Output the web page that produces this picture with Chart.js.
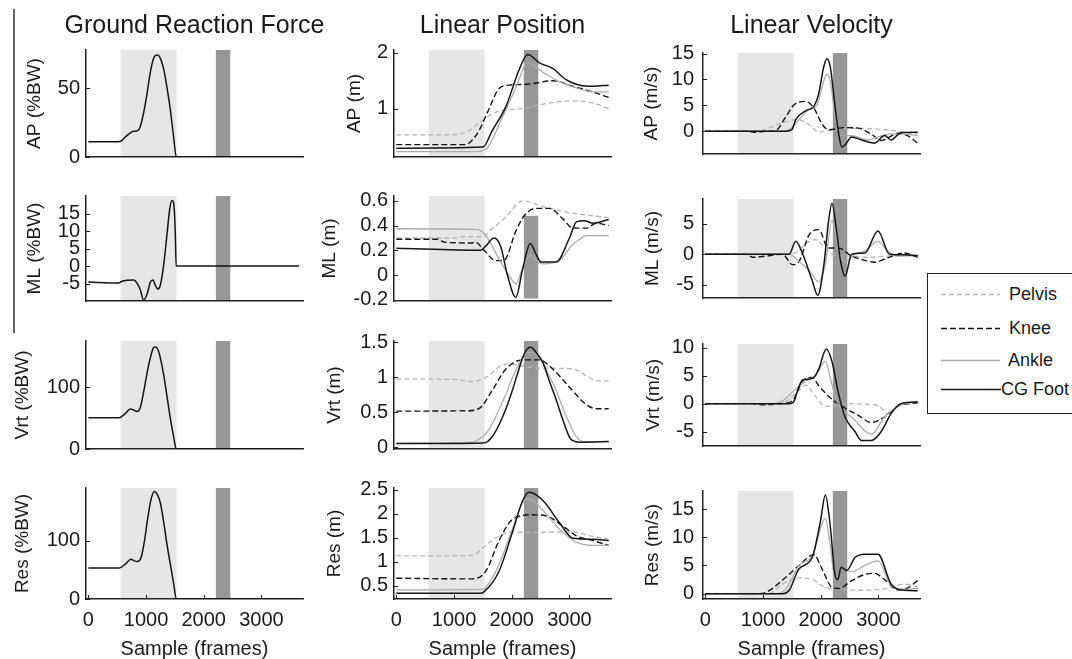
<!DOCTYPE html>
<html>
<head>
<meta charset="utf-8">
<script src="https://cdn.jsdelivr.net/npm/chart.js@4.4.1/dist/chart.umd.min.js"></script>
<style>
html, body { margin: 0; padding: 0; background: #fff; }
body { width: 1072px; height: 659px; position: relative; overflow: hidden;
  font-family: "Liberation Sans", Arial, sans-serif; color: #1a1a1a; }
canvas { position: absolute; }
.coltitle { position: absolute; top: 12px; font-size: 25px; line-height: 25px; white-space: nowrap; transform: translateX(-50%); }
#sep { position: absolute; left: 13px; top: 9px; width: 1.5px; height: 324px; background: #666; }
#legend { position: absolute; left: 927px; top: 273px; width: 160px; height: 139px; border: 1px solid #222; background: #fff; }
#legend .item { position: absolute; left: 0; height: 24px; width: 160px; }
#legend svg { position: absolute; left: 13px; top: 0; }
#legend span { position: absolute; top: 0; font-size: 18px; line-height: 24px; white-space: nowrap; }
</style>
</head>
<body>
<div id="sep"></div>
<div id="legend"></div>
<script>
// shared axis data
const xRange = [-40, 3720];
const xTicks = [0, 1000, 2000, 3000];
const lightBand = [560, 1530];
const darkBand = [2210, 2460];
const posMLDarkBandY = [-0.19, 0.48];
const seriesNames = ["Pelvis", "Knee", "Ankle", "CG Foot"];
const columnTitles = ["Ground Reaction Force", "Linear Position", "Linear Velocity"];
const rowNames = ["AP", "ML", "Vrt", "Res"];
const unitNames = ["(%BW)", "(m)", "(m/s)"];

// y ranges and ticks
const grfAPRange = [0, 78], grfAPTicks = [0, 50];
const grfMLRange = [-10, 20], grfMLTicks = [-5, 0, 5, 10, 15];
const grfVrtRange = [0, 175], grfVrtTicks = [0, 100];
const grfResRange = [0, 190], grfResTicks = [0, 100];
const posAPRange = [0.133, 2.05], posAPTicks = [1, 2];
const posMLRange = [-0.21, 0.64], posMLTicks = [-0.2, 0, 0.2, 0.4, 0.6];
const posVrtRange = [-0.027, 1.52], posVrtTicks = [0, 0.5, 1, 1.5];
const posResRange = [0.22, 2.54], posResTicks = [0.5, 1, 1.5, 2, 2.5];
const velAPRange = [-4.4, 15.1], velAPTicks = [0, 5, 10, 15];
const velMLRange = [-7.14, 9.0], velMLTicks = [-5, 0, 5];
const velVrtRange = [-7.6, 10.7], velVrtTicks = [-5, 0, 5, 10];
const velResRange = [-0.95, 18.2], velResTicks = [0, 5, 10, 15];

// ground reaction force [sample, value]
const grfAP = [[0,11.2],[520,11.2],[564,11.5],[640,14.5],[728,17.6],[786,18.7],[855,19.2],[901,22.2],[959,32.3],[1017,46],[1075,61.8],[1132,72],[1190,74.3],[1236,73],[1306,64],[1364,50.4],[1421,34.6],[1479,14.3],[1525,0],[3650,0]];
const grfML = [[0,-4.6],[526,-4.85],[584,-4.35],[786,-4.0],[844,-4.9],[901,-6.8],[959,-9.8],[1017,-8.1],[1075,-4.6],[1121,-4.0],[1161,-5.5],[1202,-6.6],[1248,-5.5],[1306,0.3],[1364,9.1],[1410,16.2],[1450,18.7],[1479,18],[1508,9.1],[1522,0],[3650,0]];
const grfVrt = [[0,50.8],[535,50.8],[641,57.3],[728,64.9],[786,63.3],[844,60.8],[901,67.4],[959,92.5],[1017,122.6],[1075,147.8],[1132,164.4],[1161,165.4],[1219,157.9],[1306,120.2],[1364,85],[1421,49.8],[1479,19.6],[1525,0],[3650,0]];
const grfRes = [[0,53],[535,53],[641,59.7],[740,68],[798,65.2],[855,64],[913,70.6],[971,98.3],[1028,137],[1086,170],[1144,184],[1190,180],[1248,164.7],[1306,131.5],[1364,92.9],[1421,59.7],[1479,26.5],[1525,0],[3650,0]];

// linear position
const posAPPelvis = [[0,0.53],[965,0.53],[1250,0.6],[1550,0.84],[1780,0.955],[2010,0.985],[2250,1.01],[2540,1.08],[3060,1.14],[3410,1.1],[3680,1.0]];
const posAPKnee = [[0,0.355],[1200,0.355],[1310,0.43],[1430,0.6],[1600,0.98],[1780,1.36],[1955,1.42],[2300,1.44],[2710,1.5],[3060,1.4],[3400,1.3],[3680,1.2]];
const posAPAnkle = [[0,0.23],[1400,0.23],[1550,0.27],[1840,0.85],[2070,1.37],[2275,1.82],[2540,1.65],[2830,1.48],[3120,1.37],[3410,1.3],[3680,1.3]];
const posAPFoot = [[0,0.29],[1500,0.31],[1660,0.6],[1900,1.04],[2130,1.7],[2275,1.97],[2480,1.82],[2710,1.72],[2940,1.52],[3180,1.42],[3410,1.4],[3680,1.42]];

const posMLPelvis = [[0,0.3],[1000,0.3],[1100,0.31],[1500,0.31],[1650,0.37],[1897,0.47],[2187,0.6],[2536,0.555],[3002,0.505],[3583,0.47],[3680,0.465]];
const posMLKnee = [[0,0.29],[700,0.29],[850,0.265],[1310,0.26],[1373,0.267],[1520,0.2],[1722,0.117],[1867,0.12],[2071,0.355],[2216,0.48],[2420,0.54],[2653,0.54],[2885,0.455],[3060,0.38],[3292,0.38],[3467,0.42],[3680,0.4]];
const posMLAnkle = [[0,0.375],[1400,0.37],[1550,0.32],[1780,0.13],[1950,0.0],[2071,-0.07],[2200,0.07],[2321,0.16],[2420,0.12],[2540,0.09],[2830,0.12],[3060,0.25],[3180,0.29],[3290,0.32],[3680,0.32]];
const posMLFoot = [[0,0.217],[1460,0.2],[1560,0.24],[1690,0.3],[1810,0.23],[1925,0.0],[2071,-0.18],[2190,0.05],[2321,0.255],[2420,0.17],[2507,0.105],[2770,0.105],[3000,0.3],[3120,0.43],[3260,0.44],[3410,0.42],[3680,0.45]];

const posVrtPelvis = [[0,0.975],[1000,0.97],[1310,0.94],[1550,1.0],[1900,1.19],[2130,1.17],[2360,1.14],[2710,1.13],[3060,1.12],[3350,0.99],[3470,0.95],[3680,0.95]];
const posVrtKnee = [[0,0.515],[1200,0.52],[1430,0.55],[1660,0.81],[1900,1.12],[2190,1.25],[2480,1.25],[2710,1.12],[3010,0.85],[3290,0.61],[3470,0.55],[3680,0.55]];
const posVrtAnkle = [[0,0.053],[1310,0.07],[1430,0.11],[1550,0.19],[1660,0.33],[1780,0.54],[1900,0.76],[2010,0.99],[2130,1.2],[2250,1.34],[2360,1.36],[2450,1.3],[2540,1.21],[2650,1.02],[2770,0.81],[2890,0.55],[3010,0.32],[3120,0.15],[3230,0.08],[3680,0.08]];
const posVrtFoot = [[0,0.05],[1500,0.06],[1580,0.08],[1680,0.17],[1780,0.32],[1900,0.55],[2010,0.81],[2110,1.08],[2190,1.28],[2260,1.4],[2330,1.43],[2420,1.36],[2540,1.21],[2650,0.95],[2770,0.68],[2890,0.38],[3010,0.13],[3100,0.08],[3180,0.07],[3680,0.08]];

const posResPelvis = [[0,1.12],[1310,1.13],[1550,1.34],[1780,1.54],[2010,1.62],[2360,1.61],[2710,1.62],[3060,1.62],[3350,1.54],[3680,1.47]];
const posResKnee = [[0,0.655],[1310,0.64],[1550,0.8],[1780,1.44],[2010,1.88],[2360,1.98],[2590,1.96],[2890,1.74],[3120,1.54],[3410,1.44],[3680,1.34]];
const posResAnkle = [[0,0.41],[1500,0.42],[1550,0.46],[1780,0.94],[2010,1.68],[2216,2.28],[2304,2.31],[2536,2.08],[2827,1.68],[3118,1.41],[3409,1.34],[3680,1.34]];
const posResFoot = [[0,0.34],[1450,0.34],[1520,0.37],[1780,0.8],[2010,1.61],[2190,2.28],[2300,2.45],[2540,2.28],[2830,1.81],[3060,1.49],[3410,1.47],[3680,1.44]];

// linear velocity
const velAPPelvis = [[0,0],[900,0],[1282,1.4],[1595,2.26],[1795,1.3],[1966,-0.16],[2251,0.4],[2650,0.56],[3219,0.17],[3680,-0.56]];
const velAPKnee = [[0,0],[700,0],[850,-0.2],[1050,0],[1225,0.2],[1396,2.8],[1538,5.1],[1738,5.76],[1880,4.5],[2022,1.4],[2137,0.28],[2422,0.7],[2650,0.6],[2877,-0.56],[3050,-1.8],[3180,-1.2],[3333,-0.4],[3504,-0.85],[3680,-2.3]];
const velAPAnkle = [[0,0],[1350,0],[1453,0.3],[1624,2.26],[1795,4.2],[1937,5.1],[2051,9.6],[2108,11.0],[2165,9.6],[2251,2.8],[2337,-0.85],[2535,-0.85],[2820,-1.7],[2991,-1.1],[3219,-0.5],[3447,-0.56],[3680,-0.85]];
const velAPFoot = [[0,0],[1400,0],[1500,0.3],[1567,2.26],[1738,3.95],[1880,4.8],[1966,7.3],[2051,12.4],[2108,14.0],[2165,12.4],[2251,4.5],[2308,-0.3],[2365,-3.1],[2433,-2.5],[2535,-1.1],[2707,-1.7],[2935,-2.3],[3106,-0.85],[3219,-1.7],[3390,-0.28],[3680,-0.2]];

const velMLPelvis = [[0,0],[1400,0],[1567,0.24],[1738,1.7],[1909,2.4],[2080,0.9],[2251,-0.2],[2479,-0.3],[2764,-0.5],[3105,-0.35],[3447,-0.2],[3680,-0.35]];
const velMLKnee = [[0,0],[700,0],[825,-0.5],[1054,-0.3],[1339,0],[1510,-1.7],[1624,-1.2],[1795,3.1],[1966,4.0],[2130,1.0],[2308,1.0],[2536,-0.3],[2764,-1.0],[2935,-1.3],[3162,-0.6],[3447,0.2],[3680,-0.5]];
const velMLAnkle = [[0,0],[1453,0],[1624,-1.2],[1795,-2.6],[1966,-4.5],[2080,-1.5],[2194,5.5],[2308,0.5],[2422,-1.2],[2593,0],[2764,0.5],[2992,2.1],[3162,0.5],[3333,-0.3],[3680,-0.2]];
const velMLFoot = [[0,0],[1453,0],[1567,2.1],[1681,0.2],[1852,-4.3],[1949,-6.7],[2051,-2.0],[2137,5.5],[2194,8.3],[2279,3.5],[2336,-0.7],[2422,-3.6],[2536,0],[2764,0.2],[2992,3.8],[3191,0],[3447,-0.1],[3680,-0.2]];

const velVrtPelvis = [[0,0],[1300,0],[1567,1.8],[1738,3.3],[1909,1.3],[2080,-0.5],[2308,-0.2],[2536,0],[2764,-0.1],[2992,-0.3],[3162,-1.8],[3333,-0.3],[3680,0.2]];
const velVrtKnee = [[0,0],[800,0],[1000,-0.2],[1300,0],[1510,0.5],[1681,4.0],[1852,4.7],[1966,3.2],[2194,0.8],[2422,-0.8],[2650,-2.1],[2878,-3.4],[3105,-2.4],[3333,-0.5],[3680,0.2]];
const velVrtAnkle = [[0,0],[1200,0],[1339,0.5],[1567,2.6],[1738,4.0],[1909,5.0],[2080,7.6],[2194,3.4],[2308,-0.3],[2536,-2.4],[2878,-5.5],[3105,-2.4],[3333,-0.5],[3680,0.4]];
const velVrtFoot = [[0,0],[1450,0],[1530,0.3],[1600,2.4],[1681,4.2],[1790,4.4],[1880,4.7],[1966,6.2],[2097,9.8],[2194,7.6],[2308,1.8],[2422,-2.4],[2593,-5.0],[2707,-6.6],[2878,-6.6],[3049,-5.0],[3219,-1.8],[3390,0],[3680,0.3]];

const velResPelvis = [[0,0],[1100,0],[1339,1.7],[1624,2.8],[1852,2.5],[2080,1.1],[2365,0.8],[2650,0.6],[2992,0.7],[3219,1.1],[3447,1.7],[3680,1.2]];
const velResKnee = [[0,0],[900,0],[1054,0.25],[1396,2.9],[1624,5.0],[1880,6.9],[2022,4.4],[2194,1.1],[2308,0.9],[2536,2.3],[2764,3.4],[2935,3.6],[3105,2.5],[3333,0.7],[3504,1.0],[3680,2.3]];
const velResAnkle = [[0,0],[1250,0],[1396,0.8],[1624,5.0],[1852,6.7],[2080,13.3],[2165,8.5],[2251,2.5],[2365,4.4],[2536,3.9],[2764,5.0],[2992,5.8],[3219,1.4],[3447,0.8],[3680,0.9]];
const velResFoot = [[0,0],[1350,0],[1453,0.6],[1624,4.4],[1852,6.4],[1994,12.8],[2080,17.5],[2165,12],[2251,3.1],[2296,2.5],[2353,4.7],[2450,4.1],[2593,6.4],[2764,7.0],[2992,7.0],[3219,1.7],[3447,0.6],[3680,0.5]];

// styles and layout
const textColor = "#1a1a1a";
const axisColor = "#222";
const seriesStyle = [
  { color: "#b4b4b4", dash: [5, 3], width: 1.3 },
  { color: "#151515", dash: [6, 3], width: 1.4 },
  { color: "#ababab", dash: [], width: 1.3 },
  { color: "#151515", dash: [], width: 1.5 }
];
const colLeft = [86, 394, 703];
const rowTop = [46, 192, 337, 484];
const rowBottom = [161, 305, 453, 599];
const plotW = 217;
const AX = 90, PT = 14, PR = 10;
const yTitleCenter = [[35, 35, 22.5, 23], [355, 330, 335, 335], [651.5, 653, 654, 653]];
const tickGap = [6, 6, 9];

Chart.defaults.font.family = '"Liberation Sans", Arial, sans-serif';

var bandPlugin = {
  id: "bands",
  beforeDraw: function (chart, args, opts) {
    var ctx = chart.ctx, a = chart.chartArea, x = chart.scales.x, y = chart.scales.y;
    ctx.save();
    ctx.fillStyle = "#e6e6e6";
    var l1 = x.getPixelForValue(lightBand[0]), l2 = x.getPixelForValue(lightBand[1]);
    ctx.fillRect(l1, a.top, l2 - l1, a.bottom - a.top);
    ctx.fillStyle = "#979797";
    var d1 = x.getPixelForValue(darkBand[0]), d2 = x.getPixelForValue(darkBand[1]);
    var t = a.top, b = a.bottom;
    if (opts.darkY) {
      t = y.getPixelForValue(opts.darkY[1]);
      b = y.getPixelForValue(opts.darkY[0]);
    }
    ctx.fillRect(d1, t, d2 - d1, b - t);
    ctx.restore();
  }
};

var innerTicks = {
  id: "innerTicks",
  afterDraw: function (chart, args, opts) {
    var ctx = chart.ctx, a = chart.chartArea, x = chart.scales.x, y = chart.scales.y;
    ctx.save();
    ctx.strokeStyle = axisColor;
    ctx.lineWidth = 1;
    ctx.beginPath();
    y.ticks.forEach(function (t) {
      var py = Math.round(y.getPixelForValue(t.value)) + 0.5;
      ctx.moveTo(a.left, py);
      ctx.lineTo(a.left + 4, py);
    });
    if (opts.showX) {
      x.ticks.forEach(function (t) {
        var px = Math.round(x.getPixelForValue(t.value)) + 0.5;
        ctx.moveTo(px, a.bottom);
        ctx.lineTo(px, a.bottom - 4);
      });
    }
    ctx.stroke();
    ctx.restore();
  }
};

var panels = [
  { col: 0, row: 0, range: grfAPRange, ticks: grfAPTicks, lines: [grfAP] },
  { col: 0, row: 1, range: grfMLRange, ticks: grfMLTicks, lines: [grfML] },
  { col: 0, row: 2, range: grfVrtRange, ticks: grfVrtTicks, lines: [grfVrt] },
  { col: 0, row: 3, range: grfResRange, ticks: grfResTicks, lines: [grfRes] },
  { col: 1, row: 0, range: posAPRange, ticks: posAPTicks, lines: [posAPPelvis, posAPKnee, posAPAnkle, posAPFoot] },
  { col: 1, row: 1, range: posMLRange, ticks: posMLTicks, lines: [posMLPelvis, posMLKnee, posMLAnkle, posMLFoot], darkY: posMLDarkBandY },
  { col: 1, row: 2, range: posVrtRange, ticks: posVrtTicks, lines: [posVrtPelvis, posVrtKnee, posVrtAnkle, posVrtFoot] },
  { col: 1, row: 3, range: posResRange, ticks: posResTicks, lines: [posResPelvis, posResKnee, posResAnkle, posResFoot] },
  { col: 2, row: 0, range: velAPRange, ticks: velAPTicks, lines: [velAPPelvis, velAPKnee, velAPAnkle, velAPFoot] },
  { col: 2, row: 1, range: velMLRange, ticks: velMLTicks, lines: [velMLPelvis, velMLKnee, velMLAnkle, velMLFoot] },
  { col: 2, row: 2, range: velVrtRange, ticks: velVrtTicks, lines: [velVrtPelvis, velVrtKnee, velVrtAnkle, velVrtFoot] },
  { col: 2, row: 3, range: velResRange, ticks: velResTicks, lines: [velResPelvis, velResKnee, velResAnkle, velResFoot] }
];

function plainNumber(v) { return String(v); }

function makePanel(p) {
  var bottomRow = p.row === 3;
  var XH = bottomRow ? 62 : 14;
  var plotH = rowBottom[p.row] - rowTop[p.row];
  var left = colLeft[p.col] - AX;
  var canvas = document.createElement("canvas");
  canvas.width = AX + plotW + PR;
  canvas.height = PT + plotH + XH;
  canvas.style.left = left + "px";
  canvas.style.top = (rowTop[p.row] - PT) + "px";
  document.body.appendChild(canvas);

  var titleSize = 19;
  var titlePad = yTitleCenter[p.col][p.row] - left - titleSize * 1.2 / 2;

  var datasets = p.lines.map(function (pts, i) {
    var st = p.lines.length === 1 ? seriesStyle[3] : seriesStyle[i];
    return {
      label: p.lines.length === 1 ? "GRF" : seriesNames[i],
      data: pts.map(function (q) { return { x: q[0], y: q[1] }; }),
      borderColor: st.color,
      borderDash: st.dash,
      borderWidth: st.width,
      pointRadius: 0,
      fill: false,
      cubicInterpolationMode: "monotone",
      order: p.lines.length - i
    };
  });

  new Chart(canvas, {
    type: "line",
    data: { datasets: datasets },
    options: {
      responsive: false,
      animation: false,
      devicePixelRatio: 1,
      layout: { padding: { left: 0, top: PT, right: PR, bottom: bottomRow ? 0 : XH } },
      plugins: {
        legend: { display: false },
        tooltip: { enabled: false },
        bands: { darkY: p.darkY || null },
        innerTicks: { showX: bottomRow }
      },
      scales: {
        x: {
          type: "linear",
          min: xRange[0],
          max: xRange[1],
          afterBuildTicks: function (s) { s.ticks = xTicks.map(function (v) { return { value: v }; }); },
          afterFit: function (s) { s.height = bottomRow ? XH : 0; },
          grid: { display: false, drawTicks: false },
          border: { display: true, color: axisColor, width: 1.5 },
          ticks: { display: bottomRow, padding: 9, maxRotation: 0, color: textColor, font: { size: 20 }, callback: plainNumber },
          title: { display: bottomRow, text: "Sample (frames)", color: textColor, font: { size: 20 }, padding: { top: 0, bottom: 0 } }
        },
        y: {
          type: "linear",
          min: p.range[0],
          max: p.range[1],
          afterBuildTicks: function (s) { s.ticks = p.ticks.map(function (v) { return { value: v }; }); },
          afterFit: function (s) { s.width = AX; },
          grid: { display: false, drawTicks: false },
          border: { display: true, color: axisColor, width: 1.5 },
          ticks: { padding: tickGap[p.col], color: textColor, font: { size: 20 }, callback: plainNumber },
          title: { display: true, text: rowNames[p.row] + " " + unitNames[p.col], color: textColor, font: { size: titleSize }, padding: { top: titlePad, bottom: 0 } }
        }
      }
    },
    plugins: [bandPlugin, innerTicks]
  });
}

panels.forEach(makePanel);

columnTitles.forEach(function (t, i) {
  var d = document.createElement("div");
  d.className = "coltitle";
  d.style.left = (colLeft[i] + plotW / 2) + "px";
  d.textContent = t;
  document.body.appendChild(d);
});

// legend
var legendRows = [20, 54, 86, 115];
var legendTextLeft = [81, 81, 80, 73];
var legend = document.getElementById("legend");
seriesNames.forEach(function (name, i) {
  var st = seriesStyle[i];
  var item = document.createElement("div");
  item.className = "item";
  item.style.top = (legendRows[i] - 12) + "px";
  var dash = st.dash.length ? ' stroke-dasharray="' + st.dash.join(",") + '"' : "";
  item.innerHTML = '<svg width="60" height="24"><line x1="0" y1="12.5" x2="' + (i === 3 ? 60 : 59) +
    '" y2="12.5" stroke="' + st.color + '" stroke-width="' + st.width + '"' + dash + '/></svg>' +
    '<span style="left:' + legendTextLeft[i] + 'px">' + name + '</span>';
  legend.appendChild(item);
});
</script>
</body>
</html>
